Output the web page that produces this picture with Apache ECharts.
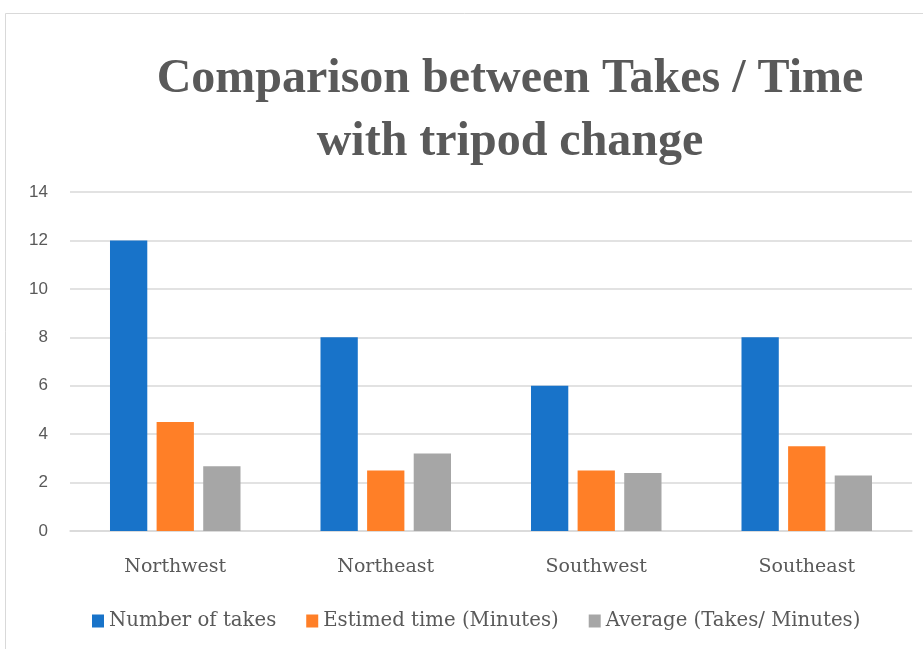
<!DOCTYPE html>
<html><head><meta charset="utf-8">
<script src="https://cdn.jsdelivr.net/npm/echarts@6/dist/echarts.min.js"></script>
<style>html,body{margin:0;padding:0;background:#fff}#c{width:923px;height:649px}</style>
</head><body><div id="c"></div>
<script>
const categories = ['Northwest', 'Northeast', 'Southwest', 'Southeast'];
const seriesNames = ['Number of takes', 'Estimed time (Minutes)', 'Average (Takes/ Minutes)'];
const numberOfTakes = [12, 8, 6, 8];
const estimatedTime = [4.5, 2.5, 2.5, 3.5];
const averageTakes = [2.67, 3.2, 2.4, 2.29];
const colors = ['#1873C9', '#FF7F27', '#A6A6A6'];
const yTicks = {min: 0, max: 14, interval: 2};

const chart = echarts.init(document.getElementById('c'));
const serif = '"Liberation Serif", "DejaVu Serif", serif';
const wideSerif = '"DejaVu Serif", "Liberation Serif", serif';
chart.setOption({
  animation: false,
  graphic: [{type: 'rect', shape: {x: 5.5, y: 13.5, width: 940, height: 660}, style: {fill: 'none', stroke: '#d9d9d9', lineWidth: 1}}],
  title: {
    text: 'Comparison between Takes / Time\nwith tripod change',
    left: 505, textAlign: 'center', top: 43,
    textStyle: {fontFamily: serif, fontWeight: 'bold', fontSize: 48, color: '#595959', lineHeight: 63}
  },
  legend: {
    left: 87, top: 606, icon: 'rect', itemWidth: 12, itemHeight: 13, itemGap: 30,
    textStyle: {fontFamily: wideSerif, fontSize: 19.7, color: '#595959', padding: [0, 0, 0, 0]},
    data: seriesNames
  },
  grid: {left: 70, right: 11, top: 192, bottom: 118},
  xAxis: {
    type: 'category', data: categories,
    axisLine: {lineStyle: {color: '#d9d9d9', width: 1.5}}, axisTick: {show: false},
    axisLabel: {fontFamily: wideSerif, fontSize: 19, color: '#595959', margin: 27}
  },
  yAxis: {
    type: 'value', min: yTicks.min, max: yTicks.max, interval: yTicks.interval,
    splitLine: {lineStyle: {color: '#d9d9d9', width: 1.5}},
    axisLine: {show: false}, axisTick: {show: false},
    axisLabel: {fontFamily: '"Liberation Sans", sans-serif', fontSize: 17, color: '#595959', margin: 22}
  },
  series: [numberOfTakes, estimatedTime, averageTakes].map((d, i) => ({
    name: seriesNames[i], type: 'bar', data: d, color: colors[i],
    barGap: '25%', barCategoryGap: '38%'
  }))
});
</script></body></html>
